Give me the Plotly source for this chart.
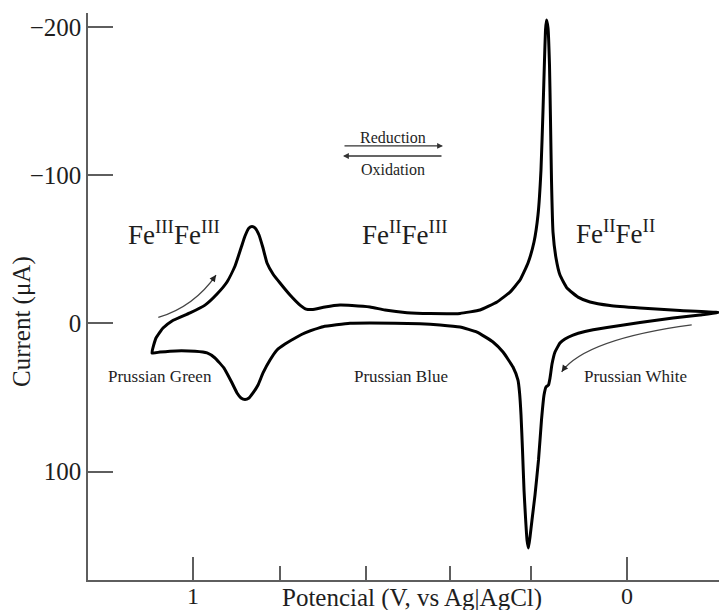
import plotly.graph_objects as go

# ---- data (potential in V, current in µA) ----
# reduction sweep (upper branch, potential decreasing)
potential_red = [1.0945, 1.0853, 1.0691, 1.0484, 1.0069, 0.9724, 0.9447, 0.9217, 0.9032, 0.8894,
                 0.8802, 0.8710, 0.8641, 0.8571, 0.8479, 0.8387, 0.8295, 0.8157, 0.7995, 0.7765,
                 0.7535, 0.7396, 0.7258, 0.6959, 0.6613, 0.6336, 0.5922, 0.5576, 0.5069, 0.4539,
                 0.3848, 0.3387, 0.2995, 0.2696, 0.2465, 0.2281, 0.2143, 0.2051, 0.1982, 0.1935,
                 0.1901, 0.1878, 0.1855, 0.1820, 0.1786, 0.1763, 0.1740, 0.1705, 0.1636, 0.1544,
                 0.1382, 0.1129, 0.0853, 0.0392, -0.0300, -0.1221, -0.2120]
current_red = [20.0, 9.9, 3.2, -1.6, -7.0, -12.3, -19.8, -27.9, -38.7, -50.8,
               -58.9, -64.3, -65.3, -64.3, -59.6, -50.8, -40.7, -33.3, -27.2, -19.1,
               -12.3, -9.6, -9.3, -11.0, -12.3, -12.0, -11.0, -9.0, -7.2, -6.6,
               -6.7, -9.0, -14.4, -21.1, -29.2, -40.7, -54.9, -73.1, -103.4, -143.9,
               -177.7, -197.9, -204.7, -199.3, -174.3, -137.2, -96.7, -61.6, -44.1, -32.6,
               -23.8, -17.7, -14.4, -12.0, -10.3, -8.6, -7.2]

# oxidation sweep (lower branch, potential increasing)
potential_ox = [-0.2120, -0.1682, -0.1060, -0.0300, 0.0461, 0.0968, 0.1244, 0.1429, 0.1544, 0.1659,
                0.1728, 0.1774, 0.1809, 0.1866, 0.1912, 0.1970, 0.2039, 0.2120, 0.2189, 0.2235,
                0.2270, 0.2304, 0.2339, 0.2373, 0.2408, 0.2442, 0.2477, 0.2512, 0.2627, 0.2857,
                0.3088, 0.3456, 0.3848, 0.4309, 0.4770, 0.5922, 0.6382, 0.7005, 0.7419, 0.7604,
                0.7880, 0.8065, 0.8226, 0.8387, 0.8502, 0.8618, 0.8710, 0.8802, 0.8894, 0.8986,
                0.9124, 0.9286, 0.9493, 0.9677, 0.9954, 1.0392, 1.0760, 1.0945]
current_ox = [-7.2, -5.6, -3.6, -0.5, 2.8, 5.5, 7.9, 10.6, 13.3, 19.4,
              27.5, 36.9, 41.6, 43.0, 48.4, 65.2, 92.2, 115.9, 132.7, 144.2,
              151.6, 146.2, 130.7, 112.5, 85.5, 61.9, 46.4, 38.3, 29.5, 19.4,
              12.6, 5.9, 2.5, 1.1, 0.3, -0.2, 0.0, 2.3, 6.5, 9.2,
              14.0, 18.0, 24.8, 33.5, 41.6, 47.0, 50.4, 51.4, 50.4, 47.0,
              38.9, 30.2, 23.4, 20.0, 18.9, 18.6, 19.4, 20.0]

y_tick_vals = [-200, -100, 0, 100]
x_tick_vals = [1, 0]
x_tick_text = ["1", "0"]
x_minor_vals = [0.800, 0.601, 0.408, 0.221, -0.210]

FONT = "Liberation Serif"
AXIS_COL = "#5e5e5e"
TXT = "#1e1e1e"

fig = go.Figure()
fig.add_trace(go.Scatter(
    x=potential_red + potential_ox[1:],
    y=current_red + current_ox[1:],
    mode="lines",
    line=dict(color="black", width=3, shape="spline", smoothing=0.4),
    hoverinfo="skip",
    showlegend=False,
))

annotations = []
# region labels
for txt, x, y in [("Fe<sup>III</sup>Fe<sup>III</sup>", 1.0438, -61.0),
                  ("Fe<sup>II</sup>Fe<sup>III</sup>", 0.5127, -61.0),
                  ("Fe<sup>II</sup>Fe<sup>II</sup>", 0.0276, -61.6)]:
    annotations.append(dict(x=x, y=y, xref="x", yref="y", text=txt, showarrow=False,
                            font=dict(family=FONT, size=27, color=TXT),
                            xanchor="center", yanchor="middle"))
for txt, x, y in [("Prussian Green", 1.0760, 36.2),
                  ("Prussian Blue", 0.5219, 36.0),
                  ("Prussian White", -0.0207, 36.2)]:
    annotations.append(dict(x=x, y=y, xref="x", yref="y", text=txt, showarrow=False,
                            font=dict(family=FONT, size=17, color=TXT),
                            xanchor="center", yanchor="middle"))
# reduction / oxidation legend arrows
annotations.append(dict(x=0.5392, y=-125.7, xref="x", yref="y", text="Reduction", showarrow=False,
                        font=dict(family=FONT, size=16, color=TXT), xanchor="center", yanchor="middle"))
annotations.append(dict(x=0.5392, y=-104.1, xref="x", yref="y", text="Oxidation", showarrow=False,
                        font=dict(family=FONT, size=16, color=TXT), xanchor="center", yanchor="middle"))
annotations.append(dict(x=0.4240, y=-119.7, ax=0.6544, ay=-119.7, xref="x", yref="y",
                        axref="x", ayref="y", text="", showarrow=True, arrowhead=2,
                        arrowsize=0.9, arrowwidth=1.3, arrowcolor="#333333", standoff=0))
annotations.append(dict(x=0.6544, y=-112.9, ax=0.4240, ay=-112.9, xref="x", yref="y",
                        axref="x", ayref="y", text="", showarrow=True, arrowhead=2,
                        arrowsize=0.9, arrowwidth=1.3, arrowcolor="#333333", standoff=0))
# heads of the curved sweep arrows
annotations.append(dict(x=0.9470, y=-32.6, xref="x", yref="y", ax=-5, ay=7, text="",
                        showarrow=True, arrowhead=2, arrowsize=1, arrowwidth=1.3,
                        arrowcolor="#222222", standoff=0))
annotations.append(dict(x=0.1505, y=32.7, xref="x", yref="y", ax=5, ay=-7, text="",
                        showarrow=True, arrowhead=2, arrowsize=1, arrowwidth=1.3,
                        arrowcolor="#222222", standoff=0))
# axis titles
annotations.append(dict(x=412, y=598, xref="paper", yref="paper", text="Potencial (V, vs Ag|AgCl)",
                        showarrow=False, font=dict(family=FONT, size=25, color=TXT),
                        xanchor="center", yanchor="middle"))
annotations.append(dict(x=22, y=322, xref="paper", yref="paper", text="Current (μA)", textangle=-90,
                        showarrow=False, font=dict(family=FONT, size=25, color=TXT),
                        xanchor="center", yanchor="middle"))

# convert pixel positions of the two axis titles to paper coords
L, R, T, B, W, H = 88, 0, 13, 30, 719, 610
pw, ph = W - L - R, H - T - B
for a in annotations[-2:]:
    a["x"] = (a["x"] - L) / pw
    a["y"] = (H - B - a["y"]) / ph

shapes = [
    dict(type="path", xref="x", yref="y",
         path="M 1.0800,-4.0 Q 0.9972,-11.4 0.9470,-32.6",
         line=dict(color="#444444", width=1.3)),
    dict(type="path", xref="x", yref="y",
         path="M -0.1491,1.1 Q 0.0945,10.6 0.1505,32.7",
         line=dict(color="#444444", width=1.3)),
]

fig.update_layout(
    width=W, height=H,
    margin=dict(l=L, r=R, t=T, b=B, pad=0, autoexpand=False),
    paper_bgcolor="white", plot_bgcolor="white",
    annotations=annotations, shapes=shapes,
    showlegend=False,
    xaxis=dict(range=[1.242, -0.212], showgrid=False, zeroline=False, automargin=False,
               showline=True, linecolor=AXIS_COL, linewidth=1.5,
               ticks="inside", ticklen=23, tickwidth=1.5, tickcolor=AXIS_COL,
               tickmode="array", tickvals=x_tick_vals, ticktext=x_tick_text,
               ticklabelstandoff=-7,
               tickfont=dict(family=FONT, size=24, color=TXT),
               minor=dict(tickmode="array", tickvals=x_minor_vals, ticks="inside",
                          ticklen=14, tickwidth=1.5, tickcolor=AXIS_COL, showgrid=False)),
    yaxis=dict(range=[173.2, -209.4], showgrid=False, zeroline=False, automargin=False,
               showline=True, linecolor=AXIS_COL, linewidth=1.5,
               ticks="inside", ticklen=25, tickwidth=1.5, tickcolor=AXIS_COL,
               tickmode="array", tickvals=y_tick_vals,
               tickfont=dict(family=FONT, size=25, color=TXT)),
)

fig.write_html("out.html")
